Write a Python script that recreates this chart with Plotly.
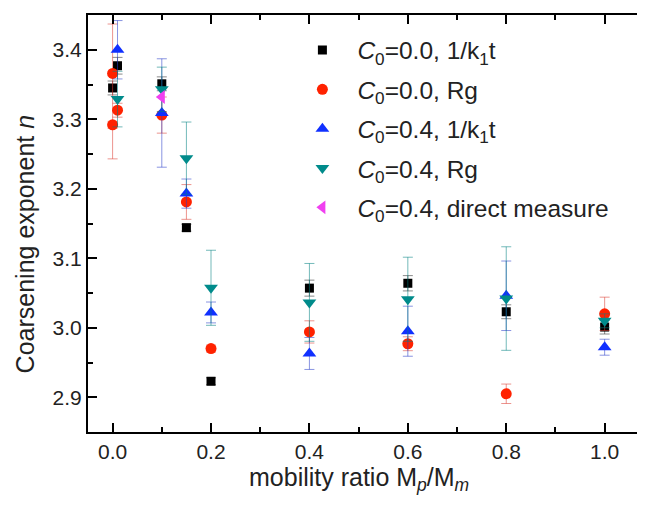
import plotly.graph_objects as go

# C0=0.0, 1/k1t
x_k0 = [0.0, 0.01, 0.1, 0.15, 0.2, 0.4, 0.6, 0.8, 1.0]
y_k0 = [3.345, 3.377, 3.351, 3.144, 2.923, 3.057, 3.064, 3.023, 3.001]
e_k0 = [0.010, 0.012, 0.010, 0.005, 0.005, 0.0115, 0.011, 0.010, 0.010]

# C0=0.0, Rg
x_r0 = [0.0, 0.0, 0.01, 0.1, 0.15, 0.2, 0.4, 0.6, 0.8, 1.0]
y_r0 = [3.366, 3.292, 3.313, 3.306, 3.181, 2.970, 2.994, 2.977, 2.905, 3.020]
ep_r0 = [0.071, 0.005, 0.010, 0.026, 0.025, 0.005, 0.016, 0.010, 0.014, 0.024]
em_r0 = [0.123, 0.005, 0.010, 0.026, 0.025, 0.005, 0.016, 0.010, 0.014, 0.024]

# C0=0.4, 1/k1t
x_k4 = [0.01, 0.1, 0.15, 0.2, 0.4, 0.6, 0.8, 1.0]
y_k4 = [3.400, 3.309, 3.193, 3.022, 2.963, 2.995, 3.046, 2.972]
e_k4 = [0.042, 0.078, 0.021, 0.015, 0.023, 0.036, 0.050, 0.0115]

# C0=0.4, Rg
x_r4 = [0.01, 0.1, 0.15, 0.2, 0.4, 0.6, 0.8, 1.0]
y_r4 = [3.329, 3.343, 3.244, 3.0575, 3.0365, 3.041, 3.042, 3.010]
e_r4 = [0.040, 0.032, 0.052, 0.054, 0.056, 0.0605, 0.0745, 0.010]

# C0=0.4, direct measure
x_d4 = [0.1]
y_d4 = [3.332]

names = [
    "<i>C</i><sub>0</sub>=0.0, 1/k<sub>1</sub>t",
    "<i>C</i><sub>0</sub>=0.0, Rg",
    "<i>C</i><sub>0</sub>=0.4, 1/k<sub>1</sub>t",
    "<i>C</i><sub>0</sub>=0.4, Rg",
    "<i>C</i><sub>0</sub>=0.4, direct measure",
]
x_title = "mobility ratio M<sub><i>p</i></sub>/M<sub><i>m</i></sub>"
y_title = "Coarsening exponent <i>n</i>"

FONT = "Arial, Liberation Sans, sans-serif"

def eb(plus, minus, color):
    return dict(type="data", array=plus, arrayminus=minus, symmetric=False,
                color=color, thickness=1, width=5)

fig = go.Figure()
fig.add_trace(go.Scatter(x=x_k0, y=y_k0, mode="markers", name=names[0], legendgroup="a",
                         marker=dict(symbol="square", size=9, color="#000000"),
                         error_y=eb(e_k0, e_k0, "rgba(60,60,60,0.6)")))
fig.add_trace(go.Scatter(x=x_r0, y=y_r0, mode="markers", name=names[1], legendgroup="b",
                         marker=dict(symbol="circle", size=11, color="#FF2200"),
                         error_y=eb(ep_r0, em_r0, "rgba(220,60,50,0.55)")))
fig.add_trace(go.Scatter(x=x_k4, y=y_k4, mode="markers", name=names[2], legendgroup="c",
                         marker=dict(symbol="triangle-up", size=12, color="#1030FF"),
                         error_y=eb(e_k4, e_k4, "rgba(40,60,200,0.55)")))
fig.add_trace(go.Scatter(x=x_r4, y=y_r4, mode="markers", name=names[3], legendgroup="d",
                         marker=dict(symbol="triangle-down", size=12, color="#008B8B"),
                         error_y=eb(e_r4, e_r4, "rgba(0,130,130,0.55)")))
fig.add_trace(go.Scatter(x=x_d4, y=y_d4, mode="markers", name=names[4], legendgroup="e",
                         marker=dict(symbol="triangle-left", size=12, color="#F040F0")))

axis_common = dict(showline=True, linewidth=2, linecolor="black", ticks="inside",
                   ticklen=9, tickwidth=1.5, tickcolor="black", showgrid=False,
                   zeroline=False, automargin=False,
                   tickfont=dict(size=21, color="#222"))

fig.update_layout(
    width=645, height=506,
    margin=dict(l=80, r=8, t=7, b=82),
    paper_bgcolor="white", plot_bgcolor="white",
    font=dict(family=FONT, color="#222"),
    showlegend=True,
    legend=dict(x=0.358, y=0.97, xanchor="left", yanchor="top",
                font=dict(size=24.5, color="#222"), bgcolor="rgba(0,0,0,0)",
                tracegroupgap=4.5, itemwidth=60),
    xaxis=dict(range=[-0.05, 1.082], tickvals=[0, 0.2, 0.4, 0.6, 0.8, 1.0],
               ticktext=["0.0", "0.2", "0.4", "0.6", "0.8", "1.0"], mirror="ticks",
               minor=dict(dtick=0.1, tick0=0, ticks="inside", ticklen=5, tickwidth=1.5,
                          tickcolor="black"),
               **axis_common),
    yaxis=dict(range=[2.85, 3.45], tickvals=[2.9, 3.0, 3.1, 3.2, 3.3, 3.4],
               ticktext=["2.9", "3.0", "3.1", "3.2", "3.3", "3.4"], mirror=False,
               minor=dict(dtick=0.05, tick0=2.85, ticks="inside", ticklen=5, tickwidth=1.5,
                          tickcolor="black"),
               **axis_common),
    annotations=[
        dict(text=x_title, xref="paper", yref="paper", x=0.487, y=-0.112,
             xanchor="center", yanchor="middle", showarrow=False,
             font=dict(size=25, color="#222")),
        dict(text=y_title, xref="paper", yref="paper", x=-0.113, y=0.45,
             xanchor="center", yanchor="middle", textangle=-90, showarrow=False,
             font=dict(size=25, color="#222")),
    ],
)

fig.write_html("out.html")
